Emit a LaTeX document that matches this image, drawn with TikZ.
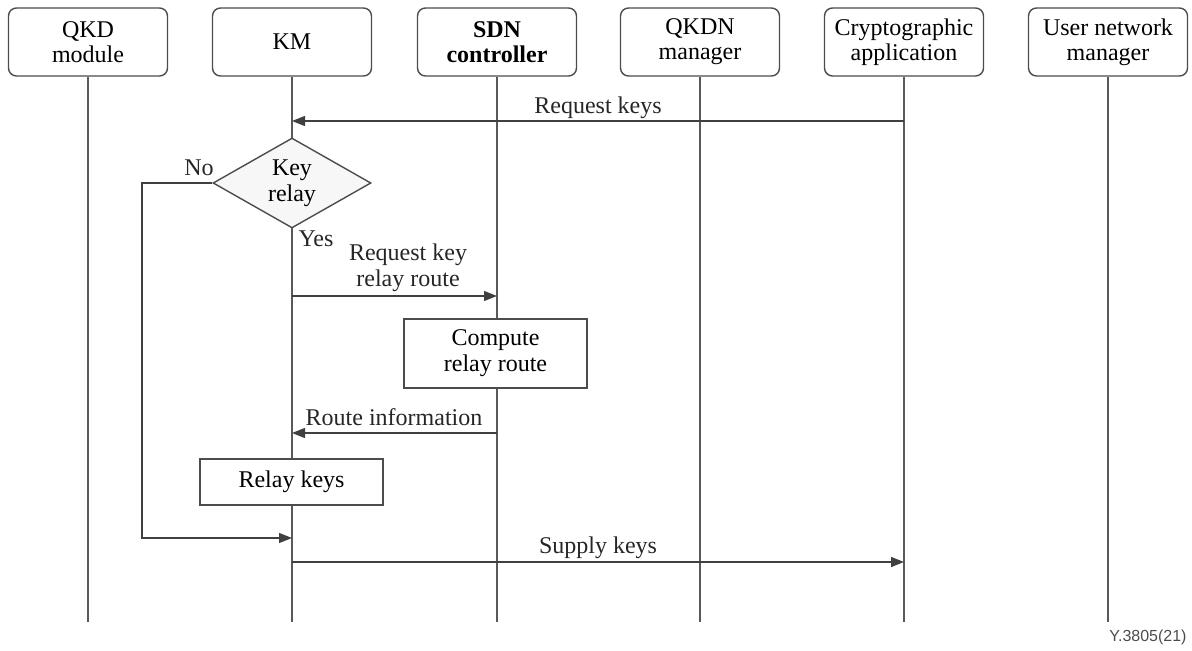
\documentclass[tikz,border=0pt]{standalone}
\usepackage{fontspec}
\setmainfont{Liberation Serif}
\setsansfont{Liberation Sans}
\usepackage{tikz}
\usetikzlibrary{shapes.geometric, arrows.meta, positioning}

\tikzset{
	actor/.style={draw=black!70, rounded corners=4pt, minimum width=79.5pt, minimum height=34pt, align=center, inner sep=1pt, font=\fontsize{12}{12.5}\selectfont, line width=0.7pt},
	life/.style={draw=black!65, line width=0.7pt},
	msg/.style={draw=black!75, line width=0.7pt, -{Triangle[length=6.5pt, width=5pt]}},
	task/.style={draw=black!70, rectangle, align=center, line width=0.7pt, font=\fontsize{12}{13}\selectfont},
	lbl/.style={font=\fontsize{12}{13}\selectfont, align=center, text=black!85, inner sep=1pt}
}

\begin{document}
\begin{tikzpicture}[x=0.5pt, y=-0.5pt]
	\useasboundingbox (0,0) rectangle (1192,651);
	% Participants et lignes de vie
	\foreach \x/\n/\t in {88/qkd/{QKD\\module}, 292/km/{KM}, 497/sdn/{\textbf{SDN}\\\textbf{controller}}, 700/qkdn/{QKDN\\manager}, 904/crypto/{Cryptographic\\application}, 1108/user/{User network\\manager}} {
		\node[actor] (\n) at (\x,42) {\t};
		\coordinate (\n-end) at (\x,622);
		\draw[life] (\n.south) -- (\n-end);
	}

	% Demande de cles
	\coordinate (req-a) at (crypto |- 0,121);
	\coordinate (req-b) at (km |- 0,121);
	\draw[msg] (req-a) -- (req-b);
	\node[lbl] (req) at (598,108) {Request keys};

	% Decision
	\node[diamond, draw=black!70, fill=black!3, line width=0.7pt, aspect=1.75, minimum width=79pt, minimum height=45pt, inner sep=0pt, align=center, font=\fontsize{12}{13}\selectfont] (relay) at (292,183) {Key\\relay};
	\node[lbl] (no) at (199,168) {No};
	\node[lbl] (yes) at (316,239) {Yes};
	\coordinate (no-corner) at (142,183);
	\coordinate (no-end) at (km |- 0,538);
	\draw[msg] (relay.west) -- (no-corner) |- (no-end);

	% Route de relais
	\coordinate (route-a) at (km |- 0,296);
	\coordinate (route-b) at (sdn |- 0,296);
	\draw[msg] (route-a) -- (route-b);
	\node[lbl] (route-req) at (408,268) {Request key\\relay route};
	\node[task, fill=white, minimum width=91.5pt, minimum height=34.5pt] (compute) at (495.5,353.5) {Compute\\relay route};
	\coordinate (info-a) at (sdn |- 0,433);
	\coordinate (info-b) at (km |- 0,433);
	\draw[msg] (info-a) -- (info-b);
	\node[lbl] (info) at (394,417) {Route information};
	\node[task, fill=white, minimum width=91.5pt, minimum height=23pt] (relaykeys) at (291.5,482) {Relay keys};

	% Fourniture des cles
	\coordinate (sup-a) at (km |- 0,562);
	\coordinate (sup-b) at (crypto |- 0,562);
	\draw[msg] (sup-a) -- (sup-b);
	\node[lbl] (supply) at (598,548) {Supply keys};

	\node[font=\sffamily\fontsize{8}{9}\selectfont, text=black!70] (ref) at (1148,637) {Y.3805(21)};
\end{tikzpicture}
\end{document}
